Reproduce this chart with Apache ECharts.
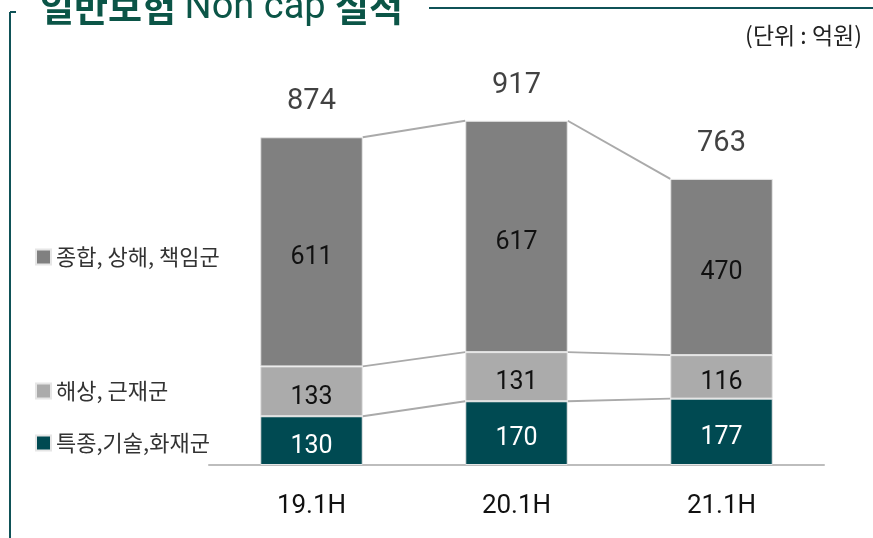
<!DOCTYPE html>
<html>
<head>
<meta charset="utf-8">
<script src="https://cdn.jsdelivr.net/npm/echarts@6/dist/echarts.min.js"></script>
<style>
  html, body { margin: 0; padding: 0; background: #fff; }
  #main { width: 873px; height: 538px; }
</style>
</head>
<body>
<div id="main"></div>
<script>
// 일반보험 Non cap 실적
var categories = ['19.1H', '20.1H', '21.1H'];
var names = ['특종,기술,화재군', '해상, 근재군', '종합, 상해, 책임군'];
var special = [130, 170, 177];
var marine = [133, 131, 116];
var general = [611, 617, 470];
var totals = [874, 917, 763];

var colors = ['#004a52', '#ababab', '#808080'];
var krFont = '"Noto Sans CJK KR", "Noto Sans", sans-serif';
var numFont = 'Roboto, "Noto Sans", sans-serif';

var chart = echarts.init(document.getElementById('main'));
var stacks = [special, marine, general];

// 막대 사이 연결선
function renderLinks(params, api) {
    var i = api.value(0);
    if (i >= categories.length - 1) return;
    var half = api.size([1, 0])[0] * 0.25;
    var children = [];
    var sumA = 0, sumB = 0;
    for (var k = 0; k < stacks.length; k++) {
        sumA += stacks[k][i];
        sumB += stacks[k][i + 1];
        var p1 = api.coord([i, sumA]);
        var p2 = api.coord([i + 1, sumB]);
        children.push({
            type: 'line',
            shape: { x1: p1[0] + half, y1: p1[1], x2: p2[0] - half, y2: p2[1] },
            style: { stroke: '#aaaaaa', lineWidth: 2 }
        });
    }
    return { type: 'group', children: children };
}

function barSeries(idx, data, labelColor) {
    return {
        name: names[idx],
        type: 'bar',
        stack: 'total',
        barWidth: '50%',
        data: data,
        itemStyle: { color: colors[idx], borderColor: '#e6e6e6', borderWidth: 1 },
        label: {
            show: true,
            position: 'inside',
            offset: [0, 6],
            color: labelColor,
            fontSize: 25,
            fontFamily: numFont
        },
        silent: true
    };
}

var legendText = { fontSize: 22, color: '#333', fontFamily: krFont };

var option = {
    animation: false,
    title: {
        text: '{b|일반보험 }{r|Non cap }{b|실적}',
        left: 35,
        top: -16,
        textStyle: {
            rich: {
                b: { fontSize: 37, fontWeight: 'bold', color: '#0b5547', fontFamily: krFont },
                r: { fontSize: 38, fontWeight: 'normal', color: '#0b5547', fontFamily: 'Roboto, "Noto Sans", sans-serif' }
            }
        }
    },
    graphic: [
        { type: 'line', shape: { x1: 10, y1: 12, x2: 10, y2: 538 }, style: { stroke: '#0f5257', lineWidth: 2 } },
        { type: 'line', shape: { x1: 10, y1: 12, x2: 16, y2: 12 }, style: { stroke: '#0f5257', lineWidth: 2 } },
        { type: 'line', shape: { x1: 429, y1: 8, x2: 873, y2: 8 }, style: { stroke: '#0f5257', lineWidth: 2 } },
        {
            type: 'text', right: 11, top: 24,
            style: { text: '(단위 : 억원)', font: '23px ' + krFont, fill: '#222' }
        }
    ],
    legend: [
        {
            data: [names[2]], left: 30, top: 241, itemWidth: 15, itemHeight: 15, icon: 'rect', itemGap: 4,
            textStyle: legendText, selectedMode: false
        },
        {
            data: [names[1]], left: 30, top: 375, itemWidth: 15, itemHeight: 15, icon: 'rect',
            textStyle: legendText, selectedMode: false
        },
        {
            data: [names[0]], left: 30, top: 427, itemWidth: 15, itemHeight: 15, icon: 'rect',
            textStyle: legendText, selectedMode: false
        }
    ],
    grid: { left: 209, width: 615, top: 90, bottom: 73 },
    xAxis: {
        type: 'category',
        data: categories,
        axisLine: { lineStyle: { color: '#bdbdbd', width: 2 } },
        axisTick: { show: false },
        axisLabel: { color: '#111', fontSize: 26, margin: 28, fontFamily: '"Liberation Sans Narrow", Roboto, sans-serif' }
    },
    yAxis: {
        type: 'value',
        min: 0,
        max: 1000,
        show: false
    },
    series: [
        barSeries(0, special, '#ffffff'),
        barSeries(1, marine, '#111111'),
        barSeries(2, general, '#111111'),
        {
            type: 'scatter',
            data: totals,
            symbolSize: 0,
            silent: true,
            label: {
                show: true,
                position: 'top',
                distance: 21,
                color: '#111',
                fontSize: 29,
                fontFamily: numFont
            }
        },
        {
            type: 'custom',
            data: categories.map(function (c, i) { return [i]; }),
            renderItem: renderLinks,
            silent: true,
            z: 1
        }
    ]
};

chart.setOption(option);
</script>
</body>
</html>
